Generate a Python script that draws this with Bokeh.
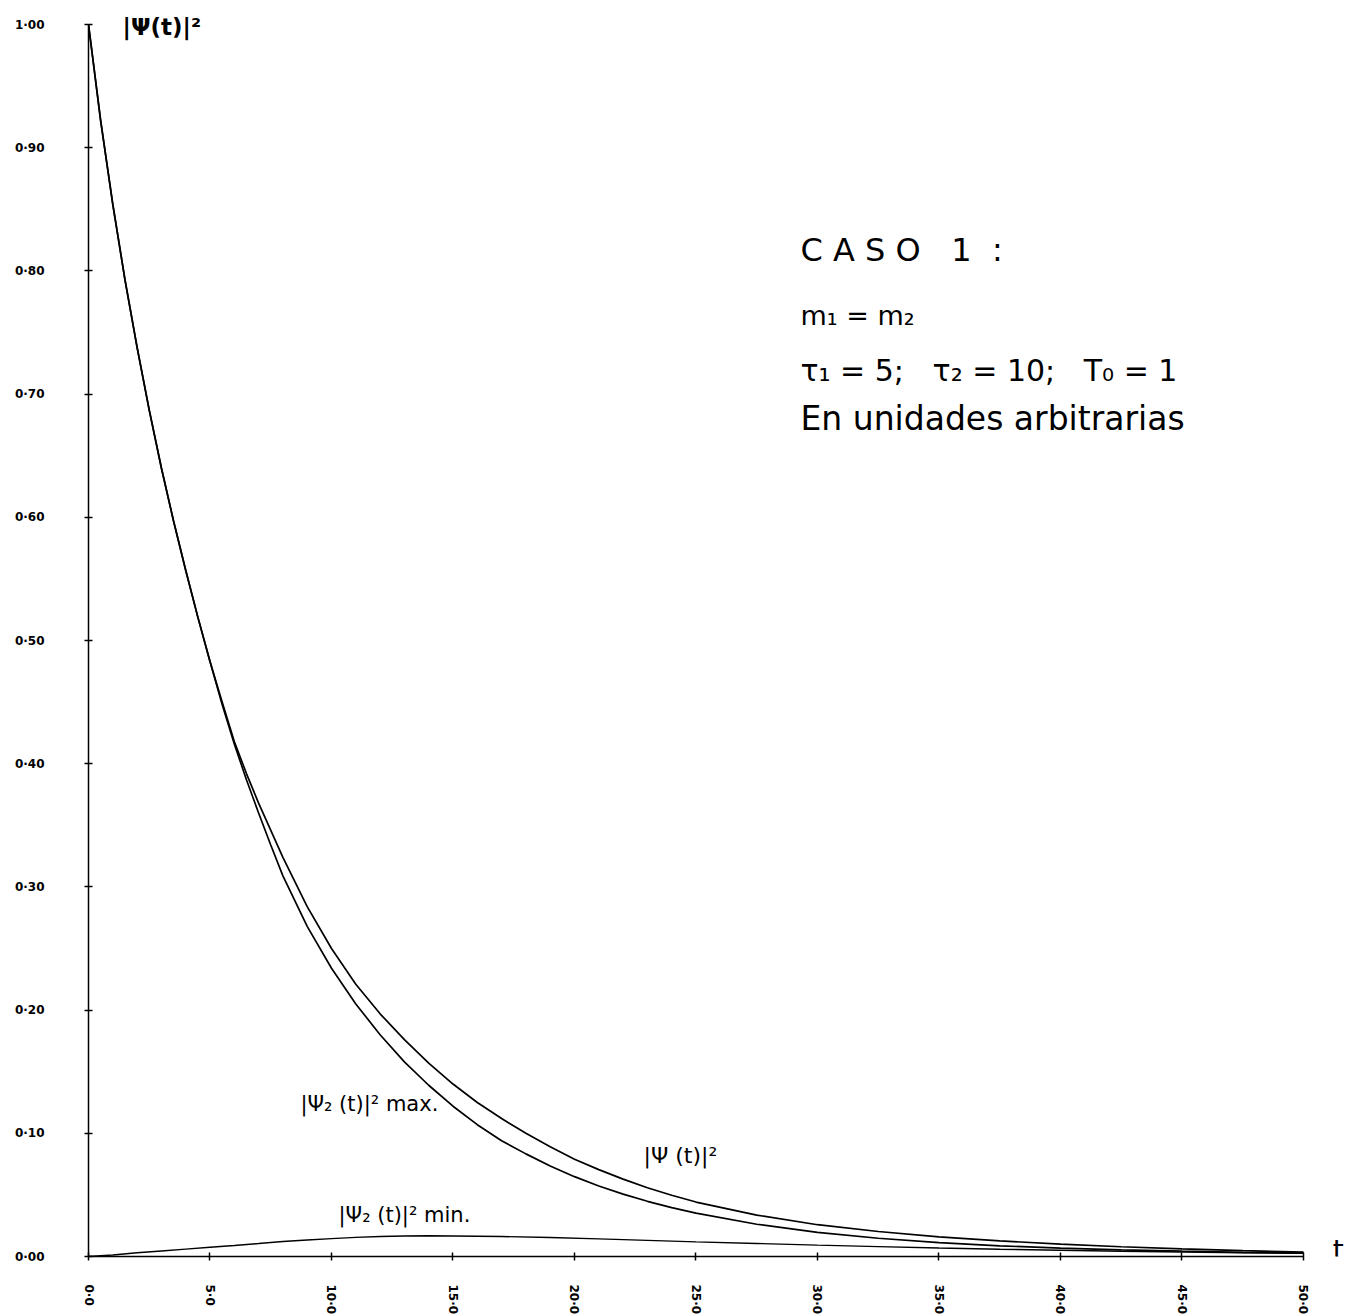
import math
from bokeh.plotting import figure
from bokeh.models import Range1d, FixedTicker, Label
from bokeh.embed import file_html
from bokeh.resources import INLINE

# ---- data ----
t_psi = [0, 0.5, 1.0, 1.5, 2.0, 2.5, 3.0, 3.5, 4.0, 4.5, 5.0, 5.5, 6.0, 6.5, 7, 8, 9,
         10, 11, 12, 13, 14, 15, 16, 17, 18, 19, 20, 21, 22, 23, 24, 25, 27.5, 30,
         32.5, 35, 37.5, 40, 42.5, 45, 47.5, 50]
psi_sq = [1.0, 0.922, 0.854, 0.793, 0.738, 0.687, 0.640, 0.597, 0.557, 0.519, 0.483,
          0.450, 0.418, 0.392, 0.368, 0.324, 0.284, 0.250, 0.221, 0.197, 0.176, 0.157,
          0.140, 0.125, 0.112, 0.100, 0.089, 0.079, 0.0705, 0.0628, 0.0558, 0.0497,
          0.0442, 0.0336, 0.0258, 0.0203, 0.0160, 0.0127, 0.0100, 0.0079, 0.0062,
          0.0047, 0.0035]

t_max = [0, 0.5, 1.0, 1.5, 2.0, 2.5, 3.0, 3.5, 4.0, 4.5, 5.0, 5.5, 6.0, 6.5, 7, 7.5, 8,
         9, 10, 11, 12, 13, 14, 15, 16, 17, 18, 19, 20, 21, 22, 23, 24, 25, 27.5, 30,
         32.5, 35, 37.5, 40, 42.5, 45, 47.5, 50]
psi2_max = [1.0, 0.922, 0.854, 0.793, 0.738, 0.687, 0.640, 0.597, 0.557, 0.519, 0.483,
            0.448, 0.416, 0.387, 0.360, 0.334, 0.309, 0.268, 0.234, 0.205, 0.180, 0.158,
            0.139, 0.122, 0.107, 0.094, 0.0833, 0.0735, 0.0648, 0.0572, 0.0506, 0.0448,
            0.0397, 0.0352, 0.0262, 0.0196, 0.0148, 0.0113, 0.0087, 0.0068, 0.0054,
            0.0043, 0.0034, 0.0027]

t_min = [0, 1, 2, 3, 4, 5, 6, 7, 8, 9, 10, 11, 12, 13, 14, 15, 17, 19, 21, 23, 25,
         27.5, 30, 32.5, 35, 37.5, 40, 42.5, 45, 47.5, 50]
psi2_min = [0.0, 0.0012, 0.0030, 0.0045, 0.0060, 0.0075, 0.0089, 0.0105, 0.0122,
            0.0134, 0.0145, 0.0155, 0.0162, 0.0166, 0.0168, 0.0167, 0.0162, 0.0154,
            0.0143, 0.0131, 0.0119, 0.0106, 0.0092, 0.0080, 0.0069, 0.0059, 0.0051,
            0.0043, 0.0037, 0.0031, 0.0026]

x_ticks = [0, 5, 10, 15, 20, 25, 30, 35, 40, 45, 50]
x_tick_labels = ["0·0", "5·0", "10·0", "15·0", "20·0", "25·0", "30·0", "35·0",
                 "40·0", "45·0", "50·0"]
y_ticks = [0.0, 0.1, 0.2, 0.3, 0.4, 0.5, 0.6, 0.7, 0.8, 0.9, 1.0]
y_tick_labels = ["0·00", "0·10", "0·20", "0·30", "0·40", "0·50", "0·60", "0·70",
                 "0·80", "0·90", "1·00"]

FONT = "DejaVu Sans"
NB = "\u00a0"

p = figure(frame_width=1258, frame_height=1256, output_backend="svg",
           toolbar_location=None, min_border_left=88, min_border_right=0,
           min_border_top=0, min_border_bottom=60,
           x_range=Range1d(0, 51.77), y_range=Range1d(0, 1.0195))
p.outline_line_color = None
p.grid.visible = False
p.background_fill_color = "white"
p.border_fill_color = "white"

for ax in (p.xaxis[0], p.yaxis[0]):
    ax.axis_line_color = "black"
    ax.axis_line_width = 1.5
    ax.major_tick_in = 4
    ax.major_tick_out = 4
    ax.major_tick_line_width = 1.5
    ax.minor_tick_line_color = None
    ax.major_label_text_font = FONT
    ax.major_label_text_font_size = "12px"
    ax.major_label_text_font_style = "bold"
    ax.major_label_text_color = "black"

p.xaxis[0].ticker = FixedTicker(ticks=x_ticks)
p.xaxis[0].major_label_overrides = {t: s for t, s in zip(x_ticks, x_tick_labels)}
p.xaxis[0].bounds = (0, 50)
p.xaxis[0].major_label_orientation = -math.pi / 2
p.xaxis[0].major_label_standoff = 24

p.yaxis[0].ticker = FixedTicker(ticks=y_ticks)
p.yaxis[0].major_label_overrides = {t: s for t, s in zip(y_ticks, y_tick_labels)}
p.yaxis[0].bounds = (0, 1)
p.yaxis[0].major_label_standoff = 40

p.line(t_psi, psi_sq, line_color="black", line_width=1.7)
p.line(t_max, psi2_max, line_color="black", line_width=1.7)
p.line(t_min, psi2_min, line_color="black", line_width=1.4)

def lab(x, y, text, size, style="normal", align="left"):
    p.add_layout(Label(x=x, y=y, text=text, text_font=FONT, text_font_size=size,
                       text_font_style=style, text_align=align,
                       text_baseline="middle", text_color="black"))

lab(1.40, 0.998, "|Ψ(t)|²", "23px", "bold")
lab(29.3, 0.8166, "C A S O" + NB * 3 + "1" + NB * 2 + ":", "32px")
lab(29.3, 0.7638, "m₁ = m₂", "27px")
lab(29.3, 0.719, "τ₁ = 5;" + NB * 3 + "τ₂ = 10;" + NB * 3 + "T₀ = 1", "30px")
lab(29.3, 0.680, "En unidades arbitrarias", "33px")
lab(8.72, 0.124, "|Ψ₂ (t)|² max.", "21px")
lab(22.84, 0.082, "|Ψ (t)|²", "22px")
lab(10.29, 0.0333, "|Ψ₂ (t)|² min.", "21px")
lab(51.2, 0.005, "t", "28px")

open("out.html", "w").write(file_html(p, INLINE))
